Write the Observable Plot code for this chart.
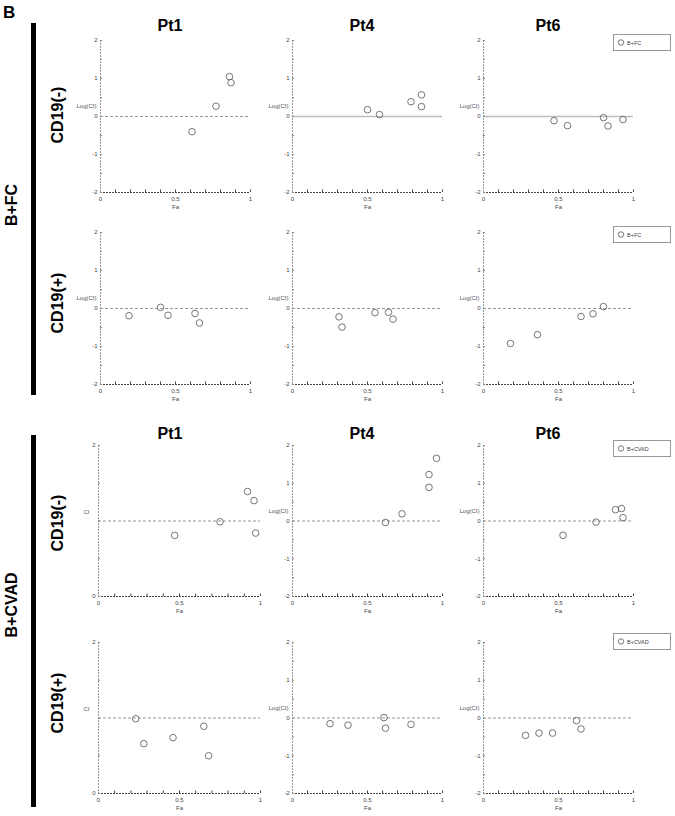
<!DOCTYPE html>
<html>
<head>
<meta charset="utf-8">
<script src="https://cdn.jsdelivr.net/npm/d3@7"></script>
<script src="https://cdn.jsdelivr.net/npm/@observablehq/plot@0.6"></script>
<style>
  body { margin: 0; background: #fff; }
  #fig { position: relative; width: 675px; height: 816px; background: #fff; overflow: hidden;
         font-family: "Liberation Sans", Arial, sans-serif; }
  #fig svg.panel { position: absolute; }
</style>
</head>
<body>
<div id="fig"></div>
<script>
// ---------- data (Fa, CI) ----------
const regimens = ["B+FC", "B+CVAD"];
const patients = ["Pt1", "Pt4", "Pt6"];
const subsets = ["CD19(-)", "CD19(+)"];

const FCneg_Pt1 = [[0.61, -0.40], [0.77, 0.27], [0.86, 1.05], [0.87, 0.89]];
const FCneg_Pt4 = [[0.50, 0.18], [0.58, 0.05], [0.79, 0.39], [0.86, 0.57], [0.86, 0.26]];
const FCneg_Pt6 = [[0.47, -0.11], [0.56, -0.24], [0.80, -0.03], [0.83, -0.25], [0.93, -0.08]];
const FCpos_Pt1 = [[0.19, -0.19], [0.40, 0.03], [0.45, -0.18], [0.63, -0.13], [0.66, -0.38]];
const FCpos_Pt4 = [[0.31, -0.22], [0.33, -0.49], [0.55, -0.11], [0.64, -0.10], [0.67, -0.28]];
const FCpos_Pt6 = [[0.18, -0.92], [0.36, -0.69], [0.65, -0.21], [0.73, -0.14], [0.80, 0.05]];
const CVADneg_Pt1 = [[0.47, 0.81], [0.75, 0.99], [0.92, 1.39], [0.96, 1.27], [0.97, 0.84]];
const CVADneg_Pt4 = [[0.62, -0.04], [0.73, 0.19], [0.91, 0.89], [0.91, 1.23], [0.96, 1.66]];
const CVADneg_Pt6 = [[0.53, -0.38], [0.75, -0.03], [0.88, 0.30], [0.92, 0.33], [0.93, 0.09]];
const CVADpos_Pt1 = [[0.23, 0.99], [0.28, 0.66], [0.46, 0.74], [0.65, 0.89], [0.68, 0.50]];
const CVADpos_Pt4 = [[0.25, -0.15], [0.37, -0.19], [0.61, 0.01], [0.62, -0.27], [0.79, -0.17]];
const CVADpos_Pt6 = [[0.28, -0.46], [0.37, -0.40], [0.46, -0.40], [0.62, -0.07], [0.65, -0.29]];

// ---------- tick labels ----------
const faTicks = [0, 0.5, 1];
const faMinor = [0.1, 0.2, 0.3, 0.4, 0.5, 0.6, 0.7, 0.8, 0.9, 1];
const logTicks = [-2, -1, 0, 1, 2];
const logMinor = [-1.5, -0.5, 0.5, 1.5];
const ciTicks = [0, 2];
const ciMinor = [0.5, 1, 1.5];

// ---------- layout ----------
const fig = d3.select("#fig");
const colFrames = { Pt1: [100, 250], Pt1w: [98, 260], Pt4: [292, 442], Pt6: [483, 633] };
const rowFrames = [[40, 192], [232, 384], [445, 596], [642, 793]];

const logType = { yDomain: [-2, 2], yTicks: logTicks, yMinor: logMinor, yLabel: "Log(CI)", ref: 0, labelAt: 0.27, labelDx: -4 };
const ciType = { yDomain: [0, 2], yTicks: ciTicks, yMinor: ciMinor, yLabel: "CI", ref: 1, labelAt: 1.12, labelDx: -9 };

const panels = [
  { data: FCneg_Pt1, row: 0, col: "Pt1", type: logType },
  { data: FCneg_Pt4, row: 0, col: "Pt4", type: logType, solid: true },
  { data: FCneg_Pt6, row: 0, col: "Pt6", type: logType, solid: true },
  { data: FCpos_Pt1, row: 1, col: "Pt1", type: logType },
  { data: FCpos_Pt4, row: 1, col: "Pt4", type: logType },
  { data: FCpos_Pt6, row: 1, col: "Pt6", type: logType },
  { data: CVADneg_Pt1, row: 2, col: "Pt1w", type: ciType },
  { data: CVADneg_Pt4, row: 2, col: "Pt4", type: logType },
  { data: CVADneg_Pt6, row: 2, col: "Pt6", type: logType },
  { data: CVADpos_Pt1, row: 3, col: "Pt1w", type: ciType },
  { data: CVADpos_Pt4, row: 3, col: "Pt4", type: logType },
  { data: CVADpos_Pt6, row: 3, col: "Pt6", type: logType }
];

const fmt = d => (d < 0 ? "-" + (-d) : String(d));

for (const p of panels) {
  const [fx0, fx1] = colFrames[p.col];
  const [fy0, fy1] = rowFrames[p.row];
  const t = p.type;
  const mL = 30, mR = 6, mT = 6, mB = 24;
  const pw = fx1 - fx0, ph = fy1 - fy0;
  const pxPerUnit = ph / (t.yDomain[1] - t.yDomain[0]);
  const mid = (t.yDomain[0] + t.yDomain[1]) / 2;
  const svg = Plot.plot({
    width: pw + mL + mR,
    height: ph + mT + mB,
    marginLeft: mL, marginRight: mR, marginTop: mT, marginBottom: mB,
    style: { fontFamily: '"Liberation Sans", Arial, sans-serif', fontSize: "6px", color: "#444", background: "transparent", overflow: "visible" },
    x: { domain: [0, 1] },
    y: { domain: t.yDomain },
    marks: [
      Plot.ruleY([t.ref], p.solid
        ? { stroke: "#bdbdbd", strokeWidth: 1.6 }
        : { stroke: "#999", strokeWidth: 1, strokeDasharray: "3,2" }),
      Plot.ruleX([0], { stroke: "#999", strokeDasharray: "2,1" }),
      Plot.ruleY([t.yDomain[0]], { stroke: "#444", strokeDasharray: "2,1" }),
      Plot.tickX(faMinor, { x: d => d, insetTop: ph - 2.5, stroke: "#444" }),
      Plot.tickY(t.yTicks.concat(t.yMinor), { y: d => d, insetRight: pw - 2, stroke: "#888" }),
      Plot.axisX(faTicks, { tickSize: 0, tickPadding: 4, tickFormat: fmt, label: null, fontSize: 6, fill: "#444" }),
      Plot.axisY(t.yTicks, { tickSize: 0, tickPadding: 3, tickFormat: fmt, label: null, fontSize: 6, fill: "#444" }),
      Plot.text([t.yLabel], { frameAnchor: "left", dx: t.labelDx, dy: -(t.labelAt - mid) * pxPerUnit, textAnchor: "end", fontSize: 6, fill: "#555" }),
      Plot.text(["Fa"], { frameAnchor: "bottom", dy: 16, fontSize: 6, fill: "#444" }),
      Plot.dot(p.data, { x: d => d[0], y: d => d[1], r: 3.3, stroke: "#666", strokeWidth: 0.9, fill: "none" })
    ]
  });
  svg.classList.add("panel");
  svg.style.left = (fx0 - mL) + "px";
  svg.style.top = (fy0 - mT) + "px";
  fig.node().appendChild(svg);
}

// ---------- annotations overlay ----------
const ov = fig.append("svg")
  .attr("width", 675).attr("height", 816)
  .style("position", "absolute").style("left", 0).style("top", 0)
  .style("font-family", '"Liberation Sans", Arial, sans-serif');

ov.append("text").attr("x", 3).attr("y", 18).attr("font-size", 17).attr("font-weight", "bold").text("B");

// group bars
[[23, 395], [435, 807]].forEach(([a, b]) =>
  ov.append("rect").attr("x", 31).attr("y", a).attr("width", 5).attr("height", b - a).attr("fill", "#000"));

// regimen labels
[[205, regimens[0]], [605, regimens[1]]].forEach(([cy, txt]) =>
  ov.append("text").attr("transform", `translate(11,${cy}) rotate(-90)`)
    .attr("text-anchor", "middle").attr("dominant-baseline", "central")
    .attr("font-size", 16).attr("font-weight", "bold").text(txt));

// subset labels
[[115, subsets[0]], [303, subsets[1]], [523, subsets[0]], [703, subsets[1]]].forEach(([cy, txt]) =>
  ov.append("text").attr("transform", `translate(57,${cy}) rotate(-90)`)
    .attr("text-anchor", "middle").attr("dominant-baseline", "central")
    .attr("font-size", 16).attr("font-weight", "bold").text(txt));

// patient titles
const titleX = [170, 362, 548];
[31, 439].forEach(by => patients.forEach((pt, i) =>
  ov.append("text").attr("x", titleX[i]).attr("y", by).attr("text-anchor", "middle")
    .attr("font-size", 16).attr("font-weight", "bold").text(pt)));

// legends
[[34, regimens[0]], [226, regimens[0]], [440, regimens[1]], [633, regimens[1]]].forEach(([ty, txt]) => {
  const g = ov.append("g");
  g.append("rect").attr("x", 613.5).attr("y", ty + 0.5).attr("width", 57).attr("height", 16)
    .attr("fill", "#fff").attr("stroke", "#333").attr("stroke-width", 1.1).attr("stroke-dasharray", "1,1");
  g.append("circle").attr("cx", 621).attr("cy", ty + 8.5).attr("r", 2.7)
    .attr("fill", "none").attr("stroke", "#666").attr("stroke-width", 0.9);
  g.append("text").attr("x", 627).attr("y", ty + 10.5).attr("font-size", 5.5).attr("fill", "#444").text(txt);
});
</script>
</body>
</html>
